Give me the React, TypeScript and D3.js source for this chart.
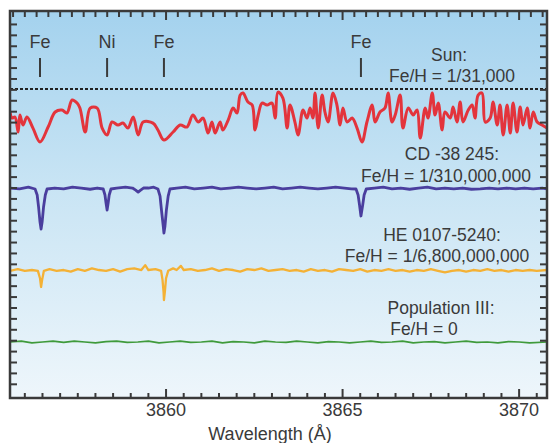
import React from "react";
import * as d3 from "d3";

// ---------- DATA ----------
const lineLabels = ["Fe", "Ni", "Fe", "Fe"];
const lineWaves = [3856.43, 3858.33, 3859.94, 3865.52];

const xTickLabels = [3860, 3865, 3870];

const starNames = ["Sun:", "CD -38 245:", "HE 0107-5240:", "Population III:"];
const starRatios = ["Fe/H = 1/31,000", "Fe/H = 1/310,000,000", "Fe/H = 1/6,800,000,000", "Fe/H = 0"];
const starColors = ["#e3343c", "#4a3e9e", "#f4b135", "#3f9a3b"];
const starOffsets = [2.768, 1.561, 0.561, -0.317];

// Sun spectrum: [wavelength Å, normalised flux]
const sunPoints: [number, number][] = [
  [3855.58, 0.72], [3855.64, 0.646], [3855.72, 0.659], [3855.81, 0.476], [3855.86, 0.683],
  [3855.95, 0.561], [3856.06, 0.659], [3856.23, 0.524], [3856.43, 0.354], [3856.66, 0.537],
  [3856.86, 0.72], [3857.05, 0.744], [3857.19, 0.707], [3857.34, 0.866], [3857.48, 0.829],
  [3857.56, 0.768], [3857.71, 0.476], [3857.85, 0.768], [3858.05, 0.768], [3858.19, 0.524],
  [3858.33, 0.439], [3858.47, 0.598], [3858.64, 0.561], [3858.78, 0.585], [3858.92, 0.524],
  [3859.07, 0.659], [3859.21, 0.439], [3859.35, 0.598], [3859.63, 0.585], [3859.77, 0.5],
  [3859.94, 0.378], [3860.2, 0.476], [3860.4, 0.561], [3860.59, 0.537], [3860.76, 0.683],
  [3860.91, 0.598], [3861.05, 0.646], [3861.19, 0.463], [3861.3, 0.598], [3861.39, 0.463],
  [3861.53, 0.598], [3861.61, 0.5], [3861.76, 0.622], [3861.9, 0.768], [3862.01, 0.707],
  [3862.1, 0.927], [3862.18, 0.951], [3862.32, 0.841], [3862.44, 0.805], [3862.52, 0.5],
  [3862.61, 0.683], [3862.72, 0.829], [3862.86, 0.805], [3863.0, 0.829], [3863.09, 0.646],
  [3863.17, 0.963], [3863.31, 0.89], [3863.43, 0.524], [3863.51, 0.805], [3863.65, 0.598],
  [3863.74, 0.439], [3863.88, 0.744], [3863.99, 0.646], [3864.08, 0.768], [3864.16, 0.646],
  [3864.22, 0.951], [3864.31, 0.524], [3864.42, 0.927], [3864.5, 0.72], [3864.59, 0.598],
  [3864.73, 0.951], [3864.84, 0.805], [3864.93, 0.561], [3865.01, 0.768], [3865.13, 0.598],
  [3865.27, 0.646], [3865.41, 0.524], [3865.55, 0.354], [3865.69, 0.598], [3865.84, 0.805],
  [3865.92, 0.598], [3866.06, 0.72], [3866.2, 0.768], [3866.29, 0.951], [3866.4, 0.598],
  [3866.49, 0.683], [3866.63, 0.927], [3866.71, 0.524], [3866.86, 0.768], [3867.0, 0.683],
  [3867.11, 0.744], [3867.2, 0.402], [3867.34, 0.768], [3867.42, 0.646], [3867.54, 0.951],
  [3867.62, 0.683], [3867.71, 0.829], [3867.82, 0.5], [3867.9, 0.72], [3868.05, 0.646],
  [3868.13, 0.78], [3868.24, 0.598], [3868.33, 0.841], [3868.41, 0.598], [3868.56, 0.744],
  [3868.67, 0.805], [3868.75, 0.646], [3868.84, 0.927], [3868.95, 0.951], [3869.04, 0.598],
  [3869.18, 0.646], [3869.26, 0.841], [3869.38, 0.561], [3869.46, 0.805], [3869.55, 0.439],
  [3869.66, 0.805], [3869.75, 0.463], [3869.83, 0.829], [3869.94, 0.476], [3870.03, 0.78],
  [3870.11, 0.561], [3870.23, 0.768], [3870.31, 0.524], [3870.4, 0.72], [3870.51, 0.598],
  [3870.65, 0.561], [3870.79, 0.524],
];

// CD -38 245
const cdPoints: [number, number][] = [
  [3855.58, 1.0], [3855.85, 0.99], [3856.1, 1.01], [3856.29, 0.988], [3856.35, 0.915],
  [3856.39, 0.768], [3856.43, 0.585], [3856.46, 0.5], [3856.49, 0.585], [3856.53, 0.768],
  [3856.58, 0.915], [3856.63, 0.988], [3856.85, 1.0], [3857.1, 0.99], [3857.35, 1.01],
  [3857.6, 1.0], [3857.85, 0.985], [3858.05, 1.0], [3858.22, 0.988], [3858.27, 0.915],
  [3858.3, 0.817], [3858.33, 0.732], [3858.36, 0.817], [3858.39, 0.915], [3858.44, 0.988],
  [3858.6, 1.0], [3858.85, 1.01], [3859.05, 1.0], [3859.14, 0.975], [3859.21, 0.951],
  [3859.28, 0.975], [3859.36, 1.0], [3859.5, 1.0], [3859.65, 1.01], [3859.77, 0.988],
  [3859.83, 0.902], [3859.87, 0.732], [3859.92, 0.537], [3859.94, 0.451], [3859.97, 0.537],
  [3860.01, 0.732], [3860.06, 0.902], [3860.11, 0.988], [3860.3, 1.0], [3860.55, 1.01],
  [3860.8, 0.99], [3861.05, 1.0], [3861.3, 1.01], [3861.55, 0.99], [3861.8, 1.0],
  [3862.05, 1.01], [3862.3, 1.0], [3862.55, 0.99], [3862.8, 1.0], [3863.05, 1.01],
  [3863.3, 0.99], [3863.55, 1.0], [3863.8, 1.01], [3864.05, 1.0], [3864.3, 0.99],
  [3864.55, 1.0], [3864.8, 1.01], [3865.05, 1.0], [3865.25, 0.99], [3865.38, 0.988],
  [3865.44, 0.915], [3865.48, 0.793], [3865.52, 0.659], [3865.57, 0.793], [3865.61, 0.915],
  [3865.67, 0.988], [3865.9, 1.0], [3866.15, 1.01], [3866.4, 0.99], [3866.65, 1.0],
  [3866.9, 0.985], [3867.15, 1.0], [3867.4, 1.01], [3867.65, 0.99], [3867.9, 1.0],
  [3868.15, 0.99], [3868.4, 1.0], [3868.65, 0.985], [3868.9, 0.99], [3869.15, 1.0],
  [3869.4, 0.99], [3869.65, 1.0], [3869.9, 0.99], [3870.15, 1.0], [3870.4, 0.99],
  [3870.65, 1.0], [3870.79, 0.99],
];

// HE 0107-5240
const hePoints: [number, number][] = [
  [3855.58, 0.99], [3855.8, 1.01], [3856.0, 0.99], [3856.2, 1.0], [3856.37, 0.99],
  [3856.43, 0.9], [3856.46, 0.793], [3856.49, 0.88], [3856.54, 0.99], [3856.7, 1.01],
  [3856.9, 0.99], [3857.1, 1.0], [3857.3, 0.98], [3857.5, 1.01], [3857.7, 0.99],
  [3857.9, 1.02], [3858.1, 1.0], [3858.3, 0.99], [3858.5, 1.01], [3858.7, 0.98],
  [3858.9, 1.01], [3859.1, 1.02], [3859.3, 1.0], [3859.41, 1.06], [3859.5, 1.0],
  [3859.7, 1.01], [3859.86, 0.99], [3859.9, 0.88], [3859.93, 0.73], [3859.94, 0.634],
  [3859.97, 0.75], [3860.0, 0.9], [3860.06, 0.99], [3860.2, 1.02], [3860.3, 1.0],
  [3860.42, 1.05], [3860.5, 1.0], [3860.7, 1.01], [3860.9, 0.99], [3861.1, 1.0],
  [3861.3, 1.02], [3861.5, 0.99], [3861.7, 1.01], [3861.9, 1.0], [3862.1, 0.98],
  [3862.3, 1.01], [3862.5, 1.0], [3862.7, 1.02], [3862.9, 0.99], [3863.1, 1.0],
  [3863.3, 1.01], [3863.5, 0.99], [3863.7, 1.0], [3863.9, 0.98], [3864.1, 1.01],
  [3864.3, 0.99], [3864.5, 1.0], [3864.7, 0.98], [3864.9, 1.01], [3865.1, 1.0],
  [3865.3, 0.99], [3865.5, 1.01], [3865.7, 0.98], [3865.9, 1.0], [3866.1, 0.99],
  [3866.3, 1.01], [3866.5, 0.99], [3866.7, 1.0], [3866.9, 0.98], [3867.1, 1.0],
  [3867.3, 0.99], [3867.5, 1.01], [3867.7, 0.99], [3867.9, 0.97], [3868.1, 0.99],
  [3868.3, 1.0], [3868.5, 0.98], [3868.7, 1.0], [3868.9, 0.99], [3869.1, 1.01],
  [3869.3, 0.99], [3869.5, 1.0], [3869.7, 0.98], [3869.9, 1.0], [3870.1, 0.99],
  [3870.3, 1.0], [3870.5, 0.99], [3870.79, 1.0],
];

// Population III
const popPoints: [number, number][] = [
  [3855.58, 1.0], [3855.9, 1.01], [3856.2, 0.99], [3856.5, 1.0], [3856.8, 1.01],
  [3857.1, 0.995], [3857.4, 1.01], [3857.7, 1.0], [3858.0, 0.99], [3858.3, 1.005],
  [3858.6, 1.01], [3858.9, 0.995], [3859.2, 1.0], [3859.5, 1.01], [3859.8, 0.99],
  [3860.1, 1.0], [3860.4, 1.01], [3860.7, 0.995], [3861.0, 1.0], [3861.3, 1.01],
  [3861.6, 0.99], [3861.9, 1.005], [3862.2, 1.0], [3862.5, 0.99], [3862.8, 1.01],
  [3863.1, 1.0], [3863.4, 0.995], [3863.7, 1.01], [3864.0, 1.0], [3864.3, 0.99],
  [3864.6, 1.005], [3864.9, 1.0], [3865.2, 0.99], [3865.5, 1.0], [3865.8, 1.01],
  [3866.1, 0.995], [3866.4, 1.0], [3866.7, 1.01], [3867.0, 0.99], [3867.3, 1.0],
  [3867.6, 1.005], [3867.9, 0.99], [3868.2, 1.0], [3868.5, 1.01], [3868.8, 0.995],
  [3869.1, 1.0], [3869.4, 0.99], [3869.7, 1.005], [3870.0, 1.0], [3870.3, 0.99],
  [3870.79, 1.0],
];

const seriesPoints = [sunPoints, cdPoints, hePoints, popPoints];

// ---------- LAYOUT ----------
const W = 549;
const H = 443;
const left = 10, right = 547, top = 11, bottom = 398;
const font = "'Liberation Sans', Arial, Helvetica, sans-serif";
const ink = "#3a3a3a";

export default function App() {
  const x = d3.scaleLinear().domain([3855.58, 3870.79]).range([left, right]);
  const y = d3.scaleLinear().domain([0, 4.72]).range([bottom, top]);

  const bottomTicks = d3.range(7712, 7742).map((v) => v / 2);
  const topTicks = d3.range(11567, 11613).map((v) => v / 3);
  const sideTicks = d3
    .range(-19, 17)
    .map((k) => 2.561 + k * 0.133)
    .filter((v) => y(v) > top + 3 && y(v) < bottom - 3);

  const makeLine = (offset: number, smooth: boolean) =>
    d3
      .line<[number, number]>()
      .x((d) => x(d[0]))
      .y((d) => y(d[1] + offset))
      .curve(smooth ? d3.curveCatmullRom.alpha(0.5) : d3.curveLinear);

  const widths = [3, 2.8, 2.3, 1.7];

  const nameLabels = [
    { cx: 449, by: 61, cx2: 452, by2: 82 },
    { cx: 452, by: 160, cx2: 446, by2: 182 },
    { cx: 442, by: 241, cx2: 437, by2: 262 },
    { cx: 441, by: 314, cx2: 424, by2: 335 },
  ];

  return (
    <svg
      width={W}
      height={H}
      style={{ position: "absolute", left: 0, top: 0, background: "#fff" }}
      fontFamily={font}
    >
      <defs>
        <linearGradient id="bg" x1="0" y1="0" x2="0" y2="1">
          <stop offset="0%" stopColor="#a4d2ee" />
          <stop offset="45%" stopColor="#c8e4f4" />
          <stop offset="100%" stopColor="#eef6fb" />
        </linearGradient>
        <clipPath id="plot">
          <rect x={left} y={top} width={right - left} height={bottom - top} />
        </clipPath>
      </defs>
      <rect x={left} y={top} width={right - left} height={bottom - top} fill="url(#bg)" />

      {/* dotted continuum line for Sun */}
      <line
        x1={left}
        x2={right}
        y1={y(starOffsets[0] + 1)}
        y2={y(starOffsets[0] + 1)}
        stroke="#222"
        strokeWidth={2}
        strokeDasharray="3 2"
      />

      <g clipPath="url(#plot)">
        {seriesPoints.map((pts, i) => (
          <path
            key={i}
            d={makeLine(starOffsets[i], i === 0)(pts) || ""}
            fill="none"
            stroke={starColors[i]}
            strokeWidth={widths[i]}
            strokeLinejoin="round"
            strokeLinecap="round"
          />
        ))}
      </g>

      {/* line identifications */}
      {lineLabels.map((t, i) => (
        <g key={i}>
          <text x={x(lineWaves[i])} y={48} textAnchor="middle" fontSize={18} fill={ink}>
            {t}
          </text>
          <line x1={x(lineWaves[i])} x2={x(lineWaves[i])} y1={58} y2={77} stroke={ink} strokeWidth={2} />
        </g>
      ))}

      {/* star labels */}
      {starNames.map((n, i) => (
        <g key={i} fontSize={17.5} fill={ink}>
          <text x={nameLabels[i].cx} y={nameLabels[i].by} textAnchor="middle">
            {n}
          </text>
          <text x={nameLabels[i].cx2} y={nameLabels[i].by2} textAnchor="middle">
            {starRatios[i]}
          </text>
        </g>
      ))}

      {/* ticks */}
      <g stroke={ink} strokeWidth={2}>
        {bottomTicks.map((v) => {
          const major = v % 5 === 0;
          return <line key={"b" + v} x1={x(v)} x2={x(v)} y1={bottom} y2={bottom - (major ? 9 : 5)} />;
        })}
        {topTicks.map((v, i) => {
          const major = (i + 2) % 15 === 0;
          return <line key={"t" + i} x1={x(v)} x2={x(v)} y1={top} y2={top + (major ? 9 : 6)} />;
        })}
        {sideTicks.map((v, i) => (
          <g key={"s" + i}>
            <line x1={left} x2={left + 7} y1={y(v)} y2={y(v)} />
            <line x1={right} x2={right - 7} y1={y(v)} y2={y(v)} />
          </g>
        ))}
      </g>

      <rect
        x={left}
        y={top}
        width={right - left}
        height={bottom - top}
        fill="none"
        stroke={ink}
        strokeWidth={2.5}
      />

      {xTickLabels.map((v) => (
        <text key={v} x={x(v)} y={416} textAnchor="middle" fontSize={18} fill={ink}>
          {v}
        </text>
      ))}
      <text x={270} y={440} textAnchor="middle" fontSize={18} fill={ink}>
        Wavelength (Å)
      </text>
    </svg>
  );
}
